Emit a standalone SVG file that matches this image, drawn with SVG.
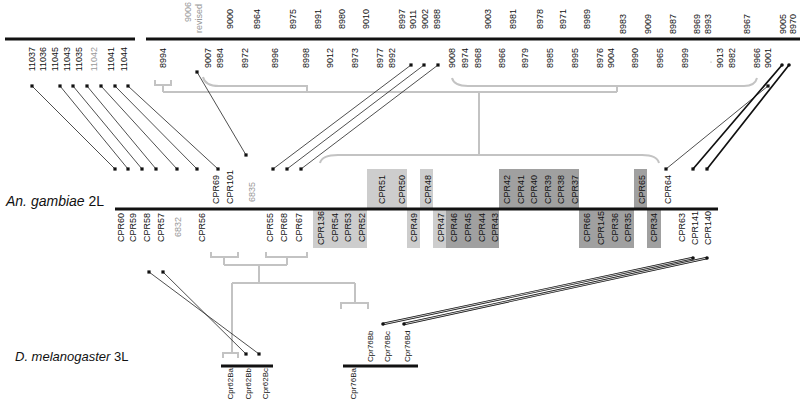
<svg xmlns="http://www.w3.org/2000/svg" width="800" height="411" viewBox="0 0 800 411">
<style>
text{font-family:"Liberation Sans",Arial,sans-serif;font-size:9px;fill:#111}
.s{text-anchor:start}
.e{text-anchor:end}
.g{fill:#999}
.c{font-size:8px}
.chr{stroke:#111;stroke-width:3;fill:none}
.br{stroke:#c3c3c3;stroke-width:2;fill:none}
.ln{stroke:#222;stroke-width:0.8;fill:none}
.tk{stroke:#111;stroke-width:1.7;fill:none}
.dbo{stroke:#111;stroke-width:2.4;fill:none}
.dbi{stroke:#fff;stroke-width:0.8;fill:none}
.lt{fill:#cdcdcd}
.dk{fill:#a0a0a0}
.lab{font-size:14px}
.lab2{font-size:13px}
</style>
<defs>
<rect id="sq" x="-1.6" y="-1.6" width="3.2" height="3.2" fill="#111"/>
<circle id="rd" r="1.8" fill="#111"/>
</defs>

<g id="boxes">
<rect class="lt" x="367" y="169" width="40" height="39"/>
<rect class="lt" x="420" y="169" width="13" height="39"/>
<rect class="dk" x="499" y="169" width="80" height="39"/>
<rect class="dk" x="634" y="169" width="13" height="39"/>
<rect class="lt" x="313" y="210" width="54" height="38"/>
<rect class="lt" x="407" y="210" width="13" height="38"/>
<rect class="lt" x="433" y="210" width="13" height="38"/>
<rect class="dk" x="446" y="210" width="53" height="38"/>
<rect class="dk" x="579" y="210" width="55" height="38"/>
<rect class="dk" x="647" y="210" width="14" height="38"/>
</g>

<g id="brackets">
<path class="br" d="M155,80 V85 H171 V80 M163,85 V92 M163,92 H617"/>
<path class="br" d="M203,77 Q205,86 219,86 H307 V92"/>
<path class="br" d="M452,78 Q454,86 468,86 H744 Q755,86 757,78 M617,86 V92"/>
<path class="br" d="M479,92 V155 M320,163 Q322,155 338,155 H642 Q657,155 659,163"/>
<path class="br" d="M211,252 V257 H238 V252 M224,257 V265 M266,252 V257 H307 V252 M287,257 V265 M224,265 H287 M259,265 V283 M232,283 H355 M232,283 V353 M223,358 V353 H238 V358 M355,283 V303 M341,309 V303 H368 V309"/>
<circle cx="711" cy="62" r="0.6" fill="#888"/>
</g>

<g id="chr-top">
<path class="chr" d="M5,39 H135 M146,39 H800" stroke-width="2.5"/>
<text class="s g" transform="translate(191,22) rotate(-90)">9006</text>
<text class="s g" transform="translate(202,33) rotate(-90)">revised</text>
<text class="s" transform="translate(233,29) rotate(-90)">9000</text>
<text class="s" transform="translate(260,29) rotate(-90)">8964</text>
<text class="s" transform="translate(296,29) rotate(-90)">8975</text>
<text class="s" transform="translate(321,29) rotate(-90)">8991</text>
<text class="s" transform="translate(345,29) rotate(-90)">8980</text>
<text class="s" transform="translate(369,29) rotate(-90)">9010</text>
<text class="s" transform="translate(405,29) rotate(-90)">8997</text>
<text class="s" transform="translate(416,29) rotate(-90)">9011</text>
<text class="s" transform="translate(428,29) rotate(-90)">9002</text>
<text class="s" transform="translate(440,29) rotate(-90)">8988</text>
<text class="s" transform="translate(491,29) rotate(-90)">9003</text>
<text class="s" transform="translate(516,29) rotate(-90)">8981</text>
<text class="s" transform="translate(543,29) rotate(-90)">8978</text>
<text class="s" transform="translate(566,29) rotate(-90)">8971</text>
<text class="s" transform="translate(590,29) rotate(-90)">8989</text>
<text class="s" transform="translate(626,34) rotate(-90)">8983</text>
<text class="s" transform="translate(651,34) rotate(-90)">9009</text>
<text class="s" transform="translate(676,34) rotate(-90)">8987</text>
<text class="s" transform="translate(700,34) rotate(-90)">8969</text>
<text class="s" transform="translate(711,34) rotate(-90)">8993</text>
<text class="s" transform="translate(750,34) rotate(-90)">8967</text>
<text class="s" transform="translate(786,34) rotate(-90)">9005</text>
<text class="s" transform="translate(796,34) rotate(-90)">8970</text>

<text class="e" transform="translate(35,47) rotate(-90)">11037</text>
<text class="e" transform="translate(46,47) rotate(-90)">11036</text>
<text class="e" transform="translate(58,47) rotate(-90)">11045</text>
<text class="e" transform="translate(70,47) rotate(-90)">11043</text>
<text class="e" transform="translate(82,47) rotate(-90)">11035</text>
<text class="e g" transform="translate(97,47) rotate(-90)">11042</text>
<text class="e" transform="translate(114,47) rotate(-90)">11041</text>
<text class="e" transform="translate(127,47) rotate(-90)">11044</text>
<text class="e" transform="translate(166,48) rotate(-90)">8994</text>
<text class="e" transform="translate(211,48) rotate(-90)">9007</text>
<text class="e" transform="translate(223,48) rotate(-90)">8984</text>
<text class="e" transform="translate(248,48) rotate(-90)">8972</text>
<text class="e" transform="translate(278,48) rotate(-90)">8996</text>
<text class="e" transform="translate(309,48) rotate(-90)">8998</text>
<text class="e" transform="translate(333,48) rotate(-90)">9012</text>
<text class="e" transform="translate(358,48) rotate(-90)">8973</text>
<text class="e" transform="translate(383,48) rotate(-90)">8977</text>
<text class="e" transform="translate(395,48) rotate(-90)">8992</text>
<text class="e" transform="translate(455,48) rotate(-90)">9008</text>
<text class="e" transform="translate(468,48) rotate(-90)">8974</text>
<text class="e" transform="translate(481,48) rotate(-90)">8968</text>
<text class="e" transform="translate(505,48) rotate(-90)">8966</text>
<text class="e" transform="translate(528,48) rotate(-90)">8979</text>
<text class="e" transform="translate(553,48) rotate(-90)">8985</text>
<text class="e" transform="translate(578,48) rotate(-90)">8995</text>
<text class="e" transform="translate(603,48) rotate(-90)">8976</text>
<text class="e" transform="translate(614,48) rotate(-90)">9004</text>
<text class="e" transform="translate(638,48) rotate(-90)">8990</text>
<text class="e" transform="translate(663,48) rotate(-90)">8965</text>
<text class="e" transform="translate(688,48) rotate(-90)">8999</text>
<text class="e" transform="translate(723,48) rotate(-90)">9013</text>
<text class="e" transform="translate(735,48) rotate(-90)">8982</text>
<text class="e" transform="translate(760,48) rotate(-90)">8966</text>
<text class="e" transform="translate(771,48) rotate(-90)">9001</text>
</g>

<g id="chr-2L">
<text class="lab" x="6" y="206"><tspan font-style="italic">An. gambiae</tspan> 2L</text>
<path class="chr" d="M115,209 H718"/>
<text class="s" transform="translate(219,204) rotate(-90)">CPR69</text>
<text class="s" transform="translate(233,204) rotate(-90)">CPR101</text>
<text class="s g" transform="translate(255,202) rotate(-90)">6835</text>
<text class="s" transform="translate(385,204) rotate(-90)">CPR51</text>
<text class="s" transform="translate(405,204) rotate(-90)">CPR50</text>
<text class="s" transform="translate(431,204) rotate(-90)">CPR48</text>
<text class="s" transform="translate(510,204) rotate(-90)">CPR42</text>
<text class="s" transform="translate(524,204) rotate(-90)">CPR41</text>
<text class="s" transform="translate(537,204) rotate(-90)">CPR40</text>
<text class="s" transform="translate(551,204) rotate(-90)">CPR39</text>
<text class="s" transform="translate(564,204) rotate(-90)">CPR38</text>
<text class="s" transform="translate(578,204) rotate(-90)">CPR37</text>
<text class="s" transform="translate(645,204) rotate(-90)">CPR65</text>
<text class="s" transform="translate(671,204) rotate(-90)">CPR64</text>

<text class="e" transform="translate(124,213) rotate(-90)">CPR60</text>
<text class="e" transform="translate(136,213) rotate(-90)">CPR59</text>
<text class="e" transform="translate(150,213) rotate(-90)">CPR58</text>
<text class="e" transform="translate(164,213) rotate(-90)">CPR57</text>
<text class="e g" transform="translate(181,217) rotate(-90)">6832</text>
<text class="e" transform="translate(205,213) rotate(-90)">CPR56</text>
<text class="e" transform="translate(273,213) rotate(-90)">CPR55</text>
<text class="e" transform="translate(287,213) rotate(-90)">CPR68</text>
<text class="e" transform="translate(302,213) rotate(-90)">CPR67</text>
<text class="e" transform="translate(324,211) rotate(-90)">CPR136</text>
<text class="e" transform="translate(338,213) rotate(-90)">CPR54</text>
<text class="e" transform="translate(351,213) rotate(-90)">CPR53</text>
<text class="e" transform="translate(365,213) rotate(-90)">CPR52</text>
<text class="e" transform="translate(417,213) rotate(-90)">CPR49</text>
<text class="e" transform="translate(444,213) rotate(-90)">CPR47</text>
<text class="e" transform="translate(457,213) rotate(-90)">CPR46</text>
<text class="e" transform="translate(471,213) rotate(-90)">CPR45</text>
<text class="e" transform="translate(485,213) rotate(-90)">CPR44</text>
<text class="e" transform="translate(498,213) rotate(-90)">CPR43</text>
<text class="e" transform="translate(590,213) rotate(-90)">CPR66</text>
<text class="e" transform="translate(604,211) rotate(-90)">CPR145</text>
<text class="e" transform="translate(618,213) rotate(-90)">CPR36</text>
<text class="e" transform="translate(631,213) rotate(-90)">CPR35</text>
<text class="e" transform="translate(657,213) rotate(-90)">CPR34</text>
<text class="e" transform="translate(685,213) rotate(-90)">CPR63</text>
<text class="e" transform="translate(698,211) rotate(-90)">CPR141</text>
<text class="e" transform="translate(711,211) rotate(-90)">CPR140</text>
</g>

<g id="chr-3L">
<text class="lab2" x="15" y="361"><tspan font-style="italic">D. melanogaster</tspan> 3L</text>
<path class="chr" d="M221,366 H273 M343,366 H418"/>
<text class="e c" transform="translate(233,368) rotate(-90)">Cpr62Ba</text>
<text class="e c" transform="translate(251,368) rotate(-90)">Cpr62Bb</text>
<text class="e c" transform="translate(268,368) rotate(-90)">Cpr62Bc</text>
<text class="e c" transform="translate(356,368) rotate(-90)">Cpr76Ba</text>
<text class="s c" transform="translate(373,362) rotate(-90)">Cpr76Bb</text>
<text class="s c" transform="translate(390,362) rotate(-90)">Cpr76Bc</text>
<text class="s c" transform="translate(410,362) rotate(-90)">Cpr76Bd</text>
</g>

<g id="connectors">
<path class="ln" d="M32,86 L115,169 M60,86 L128,169 M73,86 L142,169 M87,86 L156,169 M101,86 L177,169 M115,86 L197,169 M128,86 L218,169"/>
<path class="ln" d="M197,72 L246,155"/>
<path class="ln" d="M411,65 L273,169 M424,65 L287,169 M438,65 L301,169"/>
<path class="ln" d="M768,86 L666,169"/>
<path class="tk" d="M782,65 L693,169 M789,65 L707,169"/>
<path class="dbo" d="M693,258 L383,324 M707,258 L404,324"/>
<path class="dbi" d="M693,258 L383,324 M707,258 L404,324"/>
<path class="ln" d="M149,272 L259,354 M163,272 L246,354"/>
<use href="#sq" x="32" y="86"/><use href="#sq" x="60" y="86"/><use href="#sq" x="73" y="86"/><use href="#sq" x="87" y="86"/><use href="#sq" x="101" y="86"/><use href="#sq" x="115" y="86"/><use href="#sq" x="128" y="86"/>
<use href="#sq" x="115" y="169"/><use href="#sq" x="128" y="169"/><use href="#sq" x="142" y="169"/><use href="#sq" x="156" y="169"/><use href="#sq" x="177" y="169"/><use href="#sq" x="197" y="169"/><use href="#sq" x="218" y="169"/>
<use href="#sq" x="197" y="72"/><use href="#sq" x="246" y="155"/>
<use href="#sq" x="411" y="65"/><use href="#sq" x="424" y="65"/><use href="#sq" x="438" y="65"/>
<use href="#sq" x="273" y="169"/><use href="#sq" x="287" y="169"/><use href="#sq" x="301" y="169"/>
<use href="#sq" x="768" y="86"/><use href="#sq" x="666" y="169"/>
<use href="#rd" x="782" y="65"/><use href="#rd" x="789" y="65"/>
<use href="#sq" x="693" y="169"/><use href="#sq" x="707" y="169"/>
<use href="#rd" x="693" y="258"/><use href="#rd" x="707" y="258"/>
<use href="#rd" x="383" y="324"/><use href="#rd" x="404" y="324"/>
<use href="#sq" x="149" y="272"/><use href="#sq" x="163" y="272"/>
<use href="#sq" x="246" y="354"/><use href="#sq" x="259" y="354"/>
</g>
</svg>
